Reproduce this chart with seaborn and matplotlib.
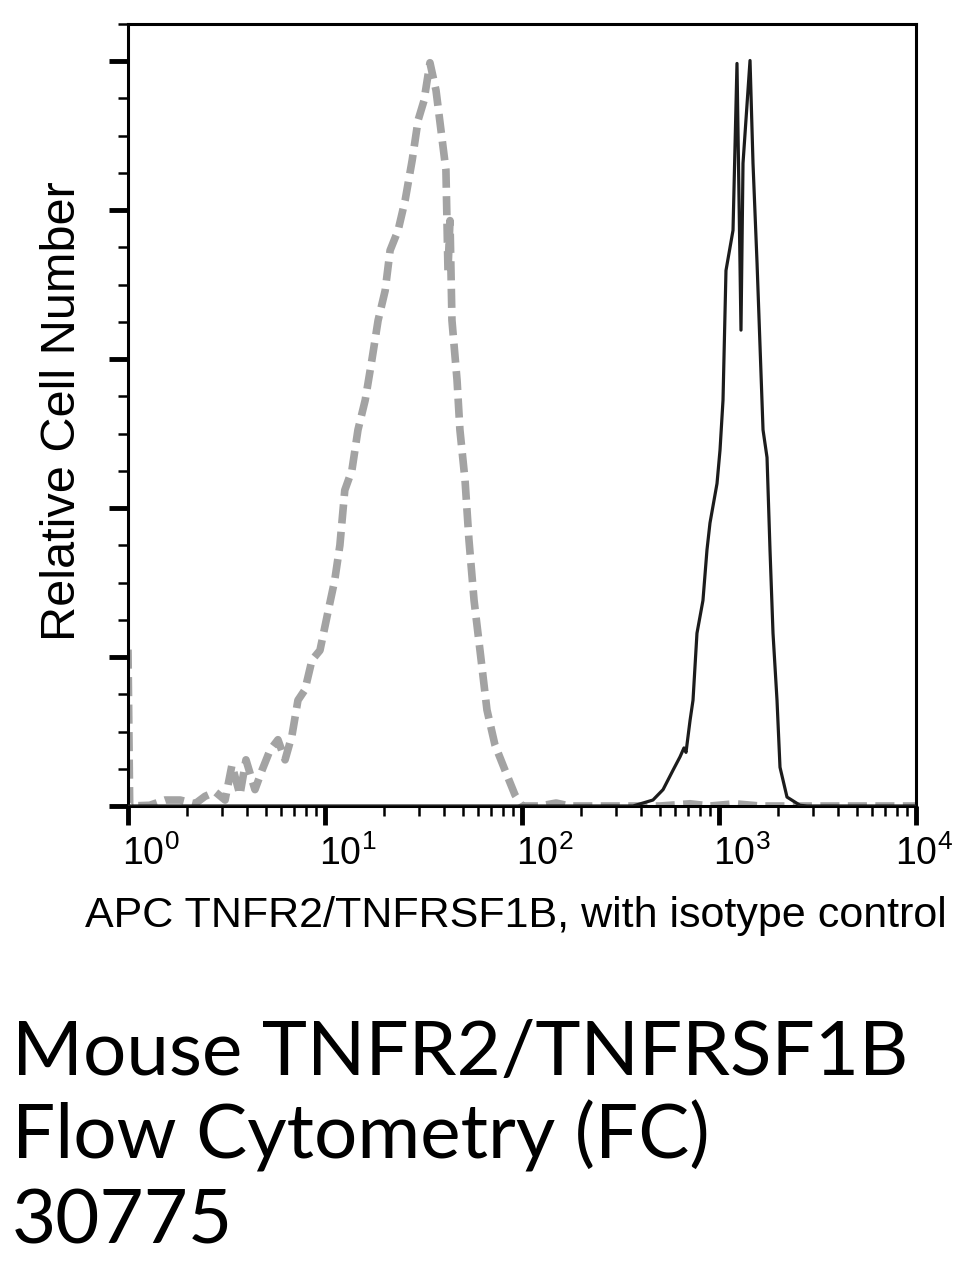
import math
import pandas as pd
import seaborn as sns
import matplotlib.pyplot as plt
from matplotlib.ticker import LogLocator, MultipleLocator, FuncFormatter, NullFormatter
from matplotlib.transforms import ScaledTranslation

# isotype control (grey dashed histogram)
isotype_x = [1.0, 1.02, 1.29, 1.54, 1.84, 2.19, 2.46, 2.77, 3.11, 3.37, 3.70, 3.97, 4.41,
             4.79, 5.26, 5.77, 6.27, 6.80, 7.29, 7.91, 8.59, 9.43, 10.4, 11.2, 11.9,
             12.6, 13.7, 14.7, 16.0, 17.3, 18.6, 20.2, 21.4, 23.5, 25.5, 27.7, 29.7,
             31.8, 34.1, 36.6, 38.8, 41.1, 42.1, 43.1, 44.1, 46.8, 48.4, 51.4, 53.8,
             57.1, 61.2, 66.4, 72.9, 82.0, 92.1, 100, 123, 149, 175, 502, 713, 900,
             1206, 1616, 10000]
isotype_y = [21.0, 0.0, 0.1, 0.8, 0.8, 0.3, 1.3, 1.9, 0.8, 5.5, 1.5, 6.2, 2.2,
             4.8, 7.5, 8.9, 6.2, 9.5, 14.2, 15.6, 19.6, 20.9, 26.3, 30.3, 35.0,
             42.4, 45.1, 50.5, 54.5, 59.9, 65.2, 69.2, 74.6, 77.3, 81.3, 86.7, 92.1,
             94.7, 99.8, 96.1, 90.7, 85.4, 71.9, 78.6, 65.2, 57.2, 50.5, 43.7, 35.7,
             27.6, 20.9, 12.9, 8.2, 4.8, 1.5, 0.0, 0.0, 0.4, 0.0, 0.0, 0.3, 0.0,
             0.3, 0.0, 0.0]

# APC TNFR2/TNFRSF1B stained cells (black histogram)
stained_x = [1, 100, 366, 462, 520, 584, 634, 664, 680, 713, 738, 773, 829, 869,
             900, 977, 1012, 1048, 1085, 1178, 1234, 1293, 1324, 1437, 1488, 1560,
             1673, 1753, 1815, 1880, 1970, 2040, 2214, 2577, 2797, 10000]
stained_y = [0.0, 0.0, 0.0, 0.8, 2.2, 4.8, 6.6, 7.8, 7.2, 11.5, 14.2, 23.2, 27.6,
             34.4, 38.0, 43.3, 47.8, 54.5, 71.9, 77.3, 99.7, 63.9, 86.3, 100.1,
             86.3, 72.9, 50.5, 46.8, 34.4, 23.2, 14.2, 5.2, 1.2, 0.1, 0.0, 0.0]

x_ticks = [1, 10, 100, 1000, 10000]
x_label = "APC TNFR2/TNFRSF1B, with isotype control"
y_label = "Relative Cell Number"
caption = ["Mouse TNFR2/TNFRSF1B", "Flow Cytometry (FC)", "30775"]

sns.set_style("ticks")
plt.rcParams["font.family"] = ["Liberation Sans", "DejaVu Sans"]
plt.rcParams["text.color"] = "black"
plt.rcParams["axes.labelcolor"] = "black"
plt.rcParams["xtick.color"] = "black"
plt.rcParams["ytick.color"] = "black"
plt.rcParams["mathtext.fontset"] = "custom"
plt.rcParams["mathtext.rm"] = "Liberation Sans"
plt.rcParams["mathtext.it"] = "Liberation Sans:italic"
plt.rcParams["mathtext.bf"] = "Liberation Sans:bold"

iso = pd.DataFrame({"intensity": isotype_x, "count": isotype_y})
stn = pd.DataFrame({"intensity": stained_x, "count": stained_y})

fig = plt.figure(figsize=(9.6, 12.78), dpi=100)
ax = fig.add_axes([128 / 960, 1 - 806 / 1278, 788 / 960, 782 / 1278])

sns.lineplot(data=iso, x="intensity", y="count", ax=ax, sort=False, estimator=None,
             color="#a3a3a3", linewidth=5.5, linestyle=(0, (2.5, 1.1)), zorder=2)
sns.lineplot(data=stn, x="intensity", y="count", ax=ax, sort=False, estimator=None,
             color="#1c1c1c", linewidth=2.3, zorder=3)

ax.set_xscale("log")
ax.set_xlim(1, 10000)
ax.set_ylim(0, 105)
ax.xaxis.set_major_locator(LogLocator(base=10))
ax.xaxis.set_minor_locator(LogLocator(base=10, subs=range(2, 10)))
ax.xaxis.set_minor_formatter(NullFormatter())
ax.set_xticks(x_ticks)
ax.xaxis.set_major_formatter(FuncFormatter(lambda v, p: r"$\mathregular{10^{%d}}$" % round(math.log10(v))))
ax.yaxis.set_major_locator(MultipleLocator(20))
ax.yaxis.set_minor_locator(MultipleLocator(5))
ax.set_yticklabels([])

for s in ax.spines.values():
    s.set_visible(True)
    s.set_linewidth(2.2)
    s.set_color("black")

ax.tick_params(axis="both", which="major", direction="out", length=14, width=3.5, color="black")
ax.tick_params(axis="both", which="minor", direction="out", length=7, width=1.8, color="black")
ax.tick_params(axis="x", which="major", labelsize=27, pad=7, labelcolor="black")

for i, lab in enumerate(ax.get_xticklabels()):
    lab.set_horizontalalignment("left")
    dx = -21 if i == len(x_ticks) - 1 else -6
    lab.set_transform(lab.get_transform() + ScaledTranslation(dx / 100, 0, fig.dpi_scale_trans))

ax.set_xlabel(x_label, fontsize=31, va="baseline", color="black")
ax.xaxis.set_label_coords((516 - 128) / 788, (806 - 927) / 782)
ax.set_ylabel(y_label, fontsize=35, color="black")
ax.yaxis.set_label_coords((85 - 128) / 788, 0.505)

for i, line in enumerate(caption):
    fig.text(12 / 960, 1 - (1075 + 84 * i) / 1278, line, fontsize=55, color="black",
             family=["Lato", "DejaVu Sans"], va="baseline", ha="left")

fig.savefig("out.png", dpi=100)
